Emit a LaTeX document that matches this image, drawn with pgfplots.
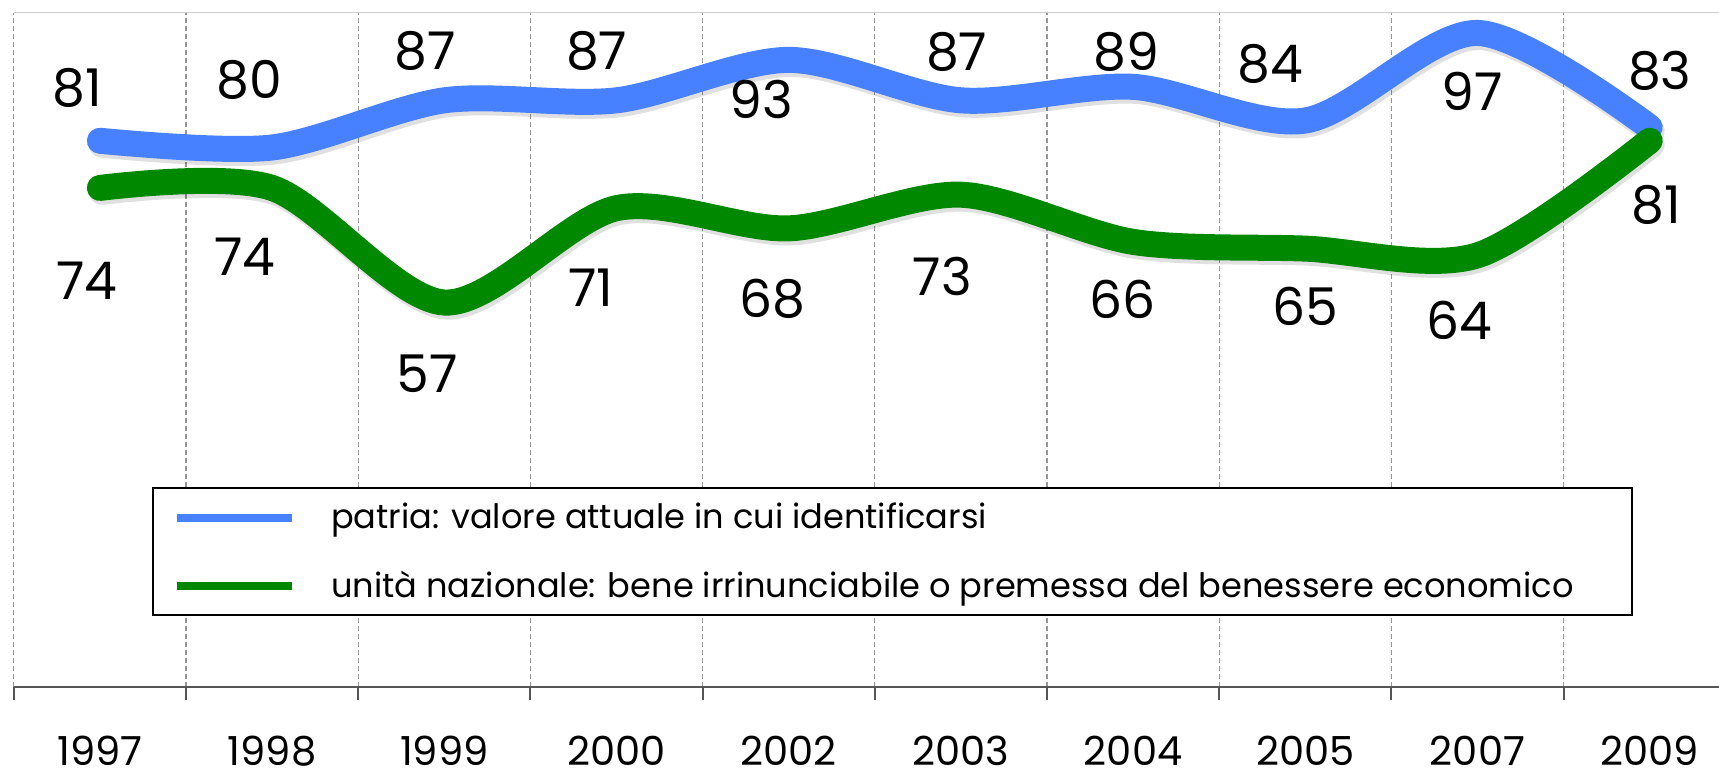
\documentclass[border=0pt]{standalone}
\usepackage{fontspec}
\setmainfont{Poppins}
\usepackage{pgfplots}
\usepackage{pgfplotstable}
\pgfplotsset{compat=1.18}
\definecolor{cblue}{RGB}{72,129,255}
\definecolor{cgreen}{RGB}{0,137,0}
\definecolor{axgray}{RGB}{85,85,85}
\definecolor{gridgray}{RGB}{150,150,150}
\definecolor{bordgray}{RGB}{205,205,205}

\pgfplotstableread{
x y
0 81
1 80
2 87
3 87
4 93
5 87
6 89
7 84
8 97
9 83
}\patria

\pgfplotstableread{
x y
0 74
1 74
2 57
3 71
4 68
5 73
6 66
7 65
8 64
9 81
}\unita

\pgfplotstableread{
x y lab
-0.130 88.9 81
0.866 90.0 80
1.888 94.3 87
2.885 94.3 87
3.843 87.2 93
4.976 94.2 87
5.959 94.2 89
6.798 92.4 84
7.967 88.4 97
9.059 91.4 83
}\patrialab

\pgfplotstableread{
x y lab
-0.075 60.2 74
0.843 63.8 74
1.902 46.4 57
2.850 59.2 71
3.903 57.5 68
4.893 60.8 73
5.936 57.5 66
6.998 56.4 65
7.893 54.3 64
9.037 71.5 81
}\unitalab

\begin{document}
\begin{tikzpicture}
\begin{axis}[
  scale only axis,
  width=861pt, height=337pt,
  at={(6.9pt,43.15pt)}, anchor=south west,
  xmin=-0.5, xmax=9.5, ymin=0, ymax=100,
  clip=false,
  axis x line*=bottom,
  axis y line=none,
  x axis line style={color=axgray, line width=1pt},
  xtick={-0.5,0.5,1.5,2.5,3.5,4.5,5.5,6.5,7.5,8.5,9.5},
  x tick label as interval,
  xticklabels={1997,1998,1999,2000,2002,2003,2004,2005,2007,2009},
  xticklabel style={font=\fontsize{20}{20}\selectfont, anchor=base, yshift=-33pt, inner sep=0pt},
  tick align=outside,
  major tick length=6.5pt,
  xtick style={color=axgray, line width=1pt},
  ytick=\empty,
  xmajorgrids,
  major x grid style={gridgray, line width=0.6pt, dash pattern=on 2.5pt off 1.5pt},
  legend style={at={(rel axis cs:0.0803,0.2959)}, anchor=north west,
    draw=black, line width=1pt, inner xsep=10pt, inner ysep=5.5pt,
    font=\fontsize{16.8}{19}\selectfont, row sep=15.6pt,
    /tikz/every odd column/.append style={column sep=15.5pt}},
  legend cell align=left,
  legend image code/.code={\draw[line width=4pt, line cap=butt] (0pt,0pt) -- (57.5pt,0pt);},
]
\draw[bordgray, line width=0.75pt] (rel axis cs:0,1) -- (rel axis cs:1.02,1);
% blue
\addplot[forget plot, smooth, black, opacity=0.12, line width=13pt, line cap=round, xshift=1pt, yshift=-2pt] table[x=x,y=y] {\patria};
\addplot[smooth, cblue, line width=13pt, line cap=round] table[x=x,y=y] {\patria};
\addlegendentry{patria: valore attuale in cui identificarsi}
% green
\addplot[forget plot, smooth, black, opacity=0.12, line width=13pt, line cap=round, xshift=1pt, yshift=-2pt] table[x=x,y=y] {\unita};
\addplot[smooth, cgreen, line width=13pt, line cap=round] table[x=x,y=y] {\unita};
\addlegendentry{unità nazionale: bene irrinunciabile o premessa del benessere economico\hspace*{17pt}}
% labels
\addplot[forget plot, draw=none, mark=none, nodes near coords, point meta=explicit symbolic,
  every node near coord/.append style={anchor=center, inner sep=0pt, black, font=\fontsize{26}{26}\selectfont}]
  table[x=x,y=y,meta=lab] {\patrialab};
\addplot[forget plot, draw=none, mark=none, nodes near coords, point meta=explicit symbolic,
  every node near coord/.append style={anchor=center, inner sep=0pt, black, font=\fontsize{26}{26}\selectfont}]
  table[x=x,y=y,meta=lab] {\unitalab};
\end{axis}
\pgfresetboundingbox
\path (0,0) rectangle (859.5pt,386.5pt);
\end{tikzpicture}
\end{document}
